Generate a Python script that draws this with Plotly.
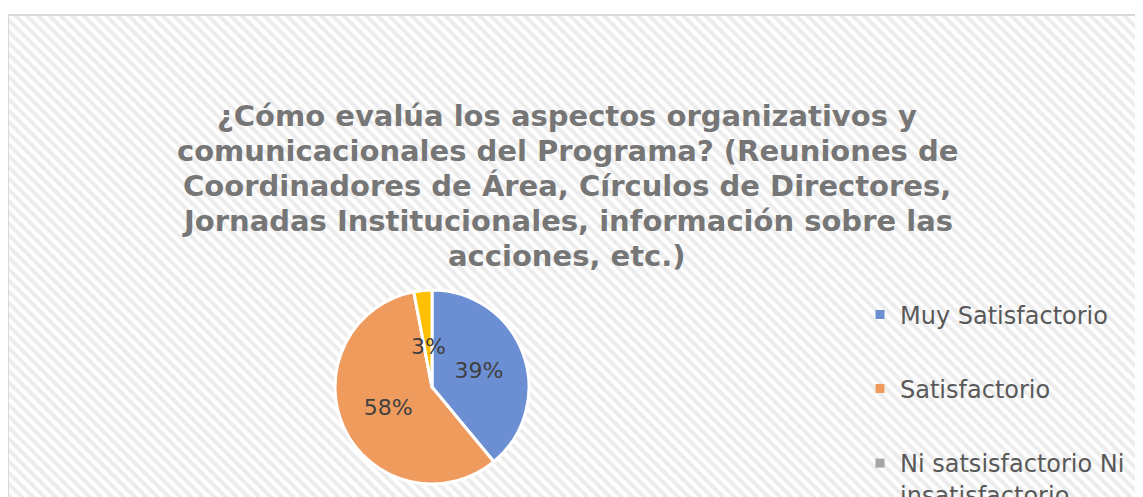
import plotly.graph_objects as go

# ---- data ----
categories = ["Muy Satisfactorio", "Satisfactorio",
              "Ni satsisfactorio Ni insatisfactorio", "Insatisfactorio"]
legend_labels = ["Muy Satisfactorio", "Satisfactorio",
                 "Ni satsisfactorio Ni<br>insatisfactorio"]
values = [39, 58, 0, 3]
colors = ["#6b8fd2", "#f09b5e", "#a5a5a5", "#ffc000"]
title_lines = [
    "¿Cómo evalúa los aspectos organizativos y",
    "comunicacionales del Programa? (Reuniones de",
    "Coordinadores de Área, Círculos de Directores,",
    "Jornadas Institucionales, información sobre las",
    "acciones, etc.)",
]

W, H = 1143, 497
OFF = 8  # page body margin


def px(x):
    return (x - OFF) / W


def py(y):
    return 1 - (y - OFF) / H


total = sum(values)
texts = [f"{round(100 * v / total)}%" if v / total > 0.05 else "" for v in values]

fig = go.Figure()

# hatched chart-area background
fig.add_trace(go.Scatter(
    x=[0, 1.02, 1.02, 0, 0],
    y=[py(16), py(16), -0.05, -0.05, py(16)],
    fill="toself", mode="lines", line=dict(width=0),
    fillcolor="white",
    fillpattern=dict(shape="\\", fgcolor="#dadada", bgcolor="white",
                     size=8, solidity=0.5),
    hoverinfo="skip", showlegend=False,
))

cx, cy, r = 432, 387, 97
fig.add_trace(go.Pie(
    labels=categories, values=values, sort=False, direction="clockwise",
    rotation=0,
    marker=dict(colors=colors, line=dict(color="white", width=3)),
    text=texts, textinfo="text", textposition="inside",
    insidetextorientation="horizontal",
    textfont=dict(family="DejaVu Sans", size=22, color="#404040"),
    domain=dict(x=[px(cx - r), px(cx + r)], y=[py(cy + r), py(cy - r)]),
    showlegend=False, hoverinfo="label+percent",
))

# small-slice label
small = [f"{round(100 * v / total)}%" for v in values if 0 < v / total <= 0.05]
for s in small:
    fig.add_annotation(x=px(428), y=py(346), xref="paper", yref="paper",
                       text=s, showarrow=False, xanchor="center",
                       yanchor="middle",
                       font=dict(family="DejaVu Sans", size=22, color="#404040"))

# title, one annotation per line
for i, line in enumerate(title_lines):
    fig.add_annotation(x=px(567), y=py(116 + 35 * i), xref="paper", yref="paper",
                       text=line, showarrow=False, xanchor="center",
                       yanchor="middle",
                       font=dict(family="DejaVu Sans", size=29, color="#767676",
                                 weight="bold"))

# legend entries, one legend each for spacing
legend_ids = ["legend", "legend2", "legend3"]
legend_y = [315, 389, 463]
for lab, col, lid in zip(legend_labels, colors, legend_ids):
    fig.add_trace(go.Scatter(
        x=[None], y=[None], mode="markers", name=lab, legend=lid,
        marker=dict(symbol="square", size=9, color=col),
    ))

legend_common = dict(xanchor="left", bgcolor="rgba(0,0,0,0)",
                      font=dict(family="DejaVu Sans", size=24, color="#595959"),
                      itemclick=False, itemdoubleclick=False)
layout_legends = {}
for i, (lid, ly) in enumerate(zip(legend_ids, legend_y)):
    if i < 2:
        layout_legends[lid] = dict(x=px(860), y=py(ly), yanchor="middle",
                                   **legend_common)
    else:
        layout_legends[lid] = dict(x=px(860), y=py(ly - 22), yanchor="top",
                                   valign="top", **legend_common)

fig.update_layout(
    width=W, height=H,
    margin=dict(l=0, r=0, t=0, b=0, autoexpand=False),
    paper_bgcolor="white", plot_bgcolor="rgba(0,0,0,0)",
    xaxis=dict(range=[0, 1], visible=False, fixedrange=True),
    yaxis=dict(range=[0, 1], visible=False, fixedrange=True),
    shapes=[dict(type="rect", xref="paper", yref="paper",
                 x0=px(8), x1=1.05, y0=-0.05, y1=py(15),
                 line=dict(color="#d9d9d9", width=2))],
    showlegend=True,
    **layout_legends,
)

fig.write_html("out.html")
